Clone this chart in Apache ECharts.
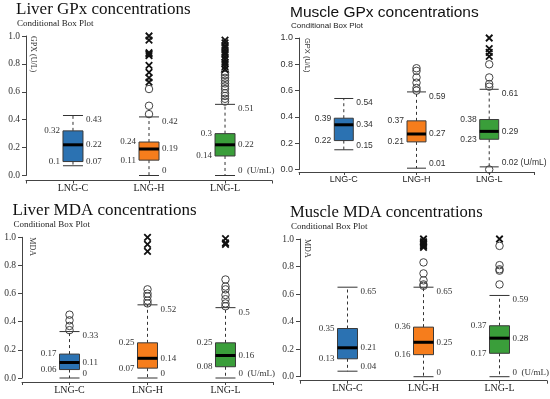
<!DOCTYPE html>
<html><head><meta charset="utf-8">
<script src="https://cdn.jsdelivr.net/npm/echarts@6/dist/echarts.min.js"></script>
<style>html,body{margin:0;padding:0;background:#fff}#c{width:550px;height:399px}</style>
</head><body><div id="c"></div>
<script>
// ---------- data ----------
const categories = ['LNG-C', 'LNG-H', 'LNG-L'];
const yTicks = [0, 0.2, 0.4, 0.6, 0.8, 1.0];
const unitLabel = '(U/mL)';
const titles = ['Liver GPx concentrations', 'Muscle GPx concentrations', 'Liver MDA concentrations', 'Muscle MDA concentrations'];
const subtitle = 'Conditional Box Plot';
const yNames = ['GPX (U/L)', 'GPX (U/L)', 'MDA', 'MDA'];

// each box: [lower whisker, Q1, median, Q3, upper whisker]
const liverGpxBoxes = [[0.07, 0.10, 0.22, 0.32, 0.43], [0, 0.11, 0.19, 0.24, 0.42], [0, 0.14, 0.22, 0.30, 0.51]];
const liverGpxCircles = [[], [0.44, 0.50, 0.62], [0.53, 0.55, 0.57, 0.59, 0.62, 0.64, 0.66, 0.68, 0.70, 0.72, 0.74]];
const liverGpxCrosses = [[], [0.67, 0.70, 0.74, 0.79, 0.86, 0.87, 0.88, 0.97, 1.0], [0.76, 0.78, 0.80, 0.81, 0.83, 0.85, 0.87, 0.88, 0.90, 0.92, 0.93, 0.95, 0.97]];

const muscleGpxBoxes = [[0.15, 0.22, 0.34, 0.39, 0.54], [0.01, 0.21, 0.27, 0.37, 0.59], [0.02, 0.23, 0.29, 0.38, 0.61]];
const muscleGpxCircles = [[], [0.60, 0.62, 0.66, 0.70, 0.75, 0.77], [0.0, 0.63, 0.65, 0.70, 0.80]];
const muscleGpxCrosses = [[], [], [0.86, 0.89, 0.92, 1.0]];

const liverMdaBoxes = [[0, 0.06, 0.11, 0.17, 0.33], [0, 0.07, 0.14, 0.25, 0.52], [0, 0.08, 0.16, 0.25, 0.50]];
const liverMdaCircles = [[0.34, 0.37, 0.41, 0.45], [0.53, 0.55, 0.58, 0.60, 0.63], [0.51, 0.53, 0.56, 0.59, 0.63, 0.65, 0.70]];
const liverMdaCrosses = [[], [0.90, 0.95, 1.0], [0.95, 0.96, 0.99]];

const muscleMdaBoxes = [[0.04, 0.13, 0.21, 0.35, 0.65], [0, 0.16, 0.25, 0.36, 0.65], [0, 0.17, 0.28, 0.37, 0.59]];
const muscleMdaCircles = [[], [0.66, 0.67, 0.70, 0.75, 0.83], [0.67, 0.77, 0.78, 0.81, 0.95]];
const muscleMdaCrosses = [[], [0.94, 0.95, 0.96, 0.97, 0.98, 1.0], [1.0]];

// ---------- layout / style ----------
const boxColors = ['#2b72b2', '#f67d1c', '#3a9e3a'];
const SERIF = '"Liberation Serif", "Times New Roman", serif';
const SANS = '"Liberation Sans", Arial, sans-serif';

const panels = [
  { boxes: liverGpxBoxes, circles: liverGpxCircles, crosses: liverGpxCrosses, font: SERIF,
    grid: { left: 26, top: 36, width: 246, height: 139.5 }, xOff: 5, m: 0.618, bw: 20, gap: '  ',
    title: { left: 16, top: 1, size: 17 }, sub: { top: 19, size: 9 }, yName: { x: 33, size: 8 }, tick: 9.5, cat: 10, lab: 9 },
  { boxes: muscleGpxBoxes, circles: muscleGpxCircles, crosses: muscleGpxCrosses, font: SANS,
    grid: { left: 299, top: 38, width: 235, height: 131.5 }, xOff: 2.5, m: 0.616, bw: 19, gap: ' ',
    title: { left: 290, top: 5, size: 15.5 }, sub: { top: 22, size: 8 }, yName: { x: 307, size: 7.5 }, tick: 9, cat: 9, lab: 8.5 },
  { boxes: liverMdaBoxes, circles: liverMdaCircles, crosses: liverMdaCrosses, font: SERIF,
    grid: { left: 22, top: 237.3, width: 251, height: 140.7 }, xOff: 4, m: 0.609, bw: 20, gap: '  ',
    title: { left: 12.5, top: 202, size: 17 }, sub: { top: 220, size: 9 }, yName: { x: 32, size: 8 }, tick: 9.5, cat: 10, lab: 9 },
  { boxes: muscleMdaBoxes, circles: muscleMdaCircles, crosses: muscleMdaCrosses, font: SERIF,
    grid: { left: 300, top: 239, width: 247, height: 137.7 }, xOff: 4, m: 0.625, bw: 20, gap: '  ',
    title: { left: 290, top: 204, size: 16.6 }, sub: { top: 222, size: 9 }, yName: { x: 307, size: 8 }, tick: 9.5, cat: 10, lab: 9 }
];

const AX = '#444';
const option = { animation: false, backgroundColor: '#fff', title: [], grid: [], xAxis: [], yAxis: [], series: [], graphic: [] };

panels.forEach((p, i) => {
  option.title.push({ text: titles[i], left: p.title.left, top: p.title.top, padding: 0,
    textStyle: { fontFamily: p.font, fontSize: p.title.size, fontWeight: 'normal', color: '#111', lineHeight: p.title.size } });
  option.title.push({ text: subtitle, left: p.title.left + 1, top: p.sub.top, padding: 0,
    textStyle: { fontFamily: p.font, fontSize: p.sub.size, fontWeight: 'normal', color: '#222', lineHeight: p.sub.size } });
  option.grid.push(Object.assign({ containLabel: false }, p.grid));
  const xmin = 1 - p.m, xmax = 3 + p.m;
  option.xAxis.push({ type: 'value', gridIndex: i, min: xmin, max: xmax, offset: p.xOff,
    axisLine: { show: true, onZero: false, lineStyle: { color: AX, width: 1 } },
    axisTick: { show: true, length: 3, customValues: [xmin, 1, 2, 3, xmax], lineStyle: { color: AX } },
    axisLabel: { show: true, customValues: [1, 2, 3], margin: 3, fontFamily: p.font, fontSize: p.cat, color: '#222',
      formatter: v => categories[Math.round(v) - 1] || '' },
    splitLine: { show: false } });
  option.yAxis.push({ type: 'value', gridIndex: i, min: 0, max: 1, interval: 0.2,
    axisLine: { show: true, lineStyle: { color: AX, width: 1 } },
    axisTick: { show: true, length: 4, lineStyle: { color: AX } },
    axisLabel: { margin: 6, fontFamily: p.font, fontSize: p.tick, color: '#333', formatter: v => v.toFixed(1) },
    splitLine: { show: false } });

  option.graphic.push({ type: 'text', x: p.yName.x, y: p.grid.top, rotation: -Math.PI / 2,
    style: { text: yNames[i], font: `${p.yName.size}px ${p.font}`, fill: '#333', textAlign: 'left', textVerticalAlign: 'middle' } });

  const bw = p.bw, font = p.font, lab = p.lab, gap = p.gap;
  option.series.push({
    type: 'custom', xAxisIndex: i, yAxisIndex: i, silent: true, clip: false,
    data: p.boxes.map((b, k) => [k + 1].concat(b)),
    encode: { x: 0, y: [1, 2, 3, 4, 5] },
    renderItem: (params, api) => {
      const x = api.value(0), k = params.dataIndex;
      const v = [1, 2, 3, 4, 5].map(d => api.value(d));
      const pt = v.map(val => api.coord([x, val]));
      const cx = pt[0][0], yMin = pt[0][1], yQ1 = pt[1][1], yMed = pt[2][1], yQ3 = pt[3][1], yMax = pt[4][1];
      const L = cx - bw / 2, R = cx + bw / 2;
      const fnt = `${lab}px ${font}`;
      const txt = (t, tx, ty, align, va) => ({ type: 'text', style: { text: t, x: tx, y: ty, fill: '#333', font: fnt, align: align, verticalAlign: va } });
      const minText = k === 2 ? `${v[0]}${gap}${unitLabel}` : `${v[0]}`;
      return { type: 'group', children: [
        { type: 'line', shape: { x1: cx, y1: yQ3, x2: cx, y2: yMax }, style: { stroke: '#333', lineWidth: 1, lineDash: [3, 3] } },
        { type: 'line', shape: { x1: cx, y1: yQ1, x2: cx, y2: yMin }, style: { stroke: '#333', lineWidth: 1, lineDash: [3, 3] } },
        { type: 'line', shape: { x1: L, y1: yMax, x2: R, y2: yMax }, style: { stroke: '#333', lineWidth: 1 } },
        { type: 'line', shape: { x1: L, y1: yMin, x2: R, y2: yMin }, style: { stroke: '#333', lineWidth: 1 } },
        { type: 'rect', shape: { x: L, y: yQ3, width: bw, height: yQ1 - yQ3 }, style: { fill: boxColors[k], stroke: '#3a3a3a', lineWidth: 1 } },
        { type: 'line', shape: { x1: L, y1: yMed, x2: R, y2: yMed }, style: { stroke: '#000', lineWidth: 3 } },
        txt(String(v[3]), L - 3, yQ3, 'right', 'middle'),
        txt(String(v[1]), L - 3, yQ1, 'right', 'middle'),
        txt(String(v[4]), R + 3, yMax, 'left', 'top'),
        txt(String(v[2]), R + 3, yMed, 'left', 'middle'),
        txt(minText, R + 3, yMin, 'left', 'bottom')
      ] };
    }
  });
  const circ = [], cross = [];
  p.circles.forEach((arr, k) => arr.forEach(val => circ.push([k + 1, val])));
  p.crosses.forEach((arr, k) => arr.forEach(val => cross.push([k + 1, val])));
  option.series.push({ type: 'scatter', xAxisIndex: i, yAxisIndex: i, silent: true, data: circ,
    symbol: 'circle', symbolSize: 7.5, itemStyle: { color: 'rgba(255,255,255,0)', borderColor: '#444', borderWidth: 1, opacity: 1 } });
  option.series.push({ type: 'scatter', xAxisIndex: i, yAxisIndex: i, silent: true, data: cross,
    symbol: 'path://M0,0L10,10M10,0L0,10', symbolSize: 6.5, itemStyle: { color: 'none', borderColor: '#111', borderWidth: 1.8, opacity: 1 } });
});

const chart = echarts.init(document.getElementById('c'), null, { renderer: 'canvas' });
chart.setOption(option);
</script>
</body></html>
